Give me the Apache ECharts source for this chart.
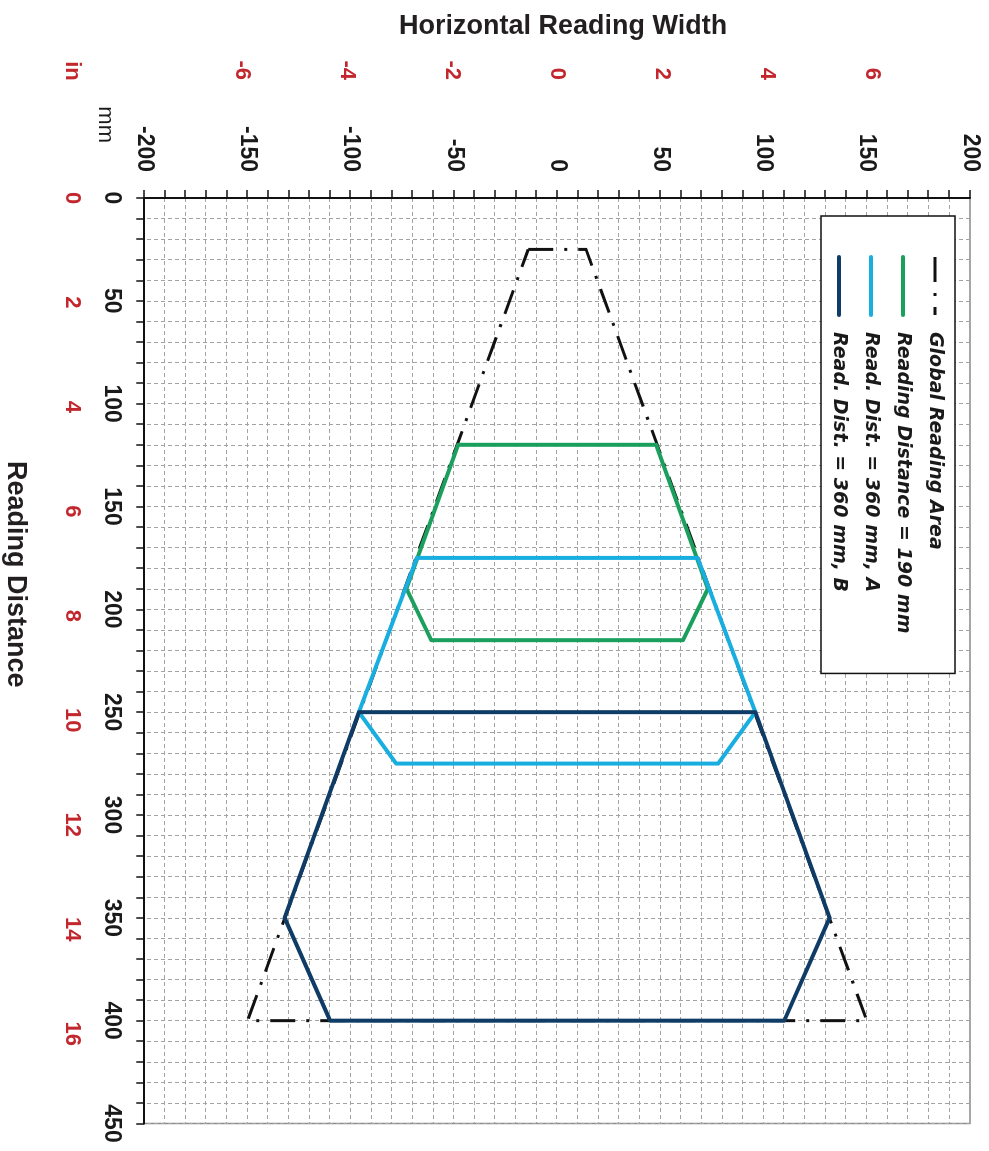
<!DOCTYPE html>
<html>
<head>
<meta charset="utf-8">
<script src="https://cdn.jsdelivr.net/npm/echarts@6/dist/echarts.min.js"></script>
<style>
  html, body { margin: 0; padding: 0; width: 989px; height: 1151px; overflow: hidden; background: #fff; }
  /* the chart is laid out lying on its side, then turned a quarter turn clockwise */
  #chart { position: absolute; left: 0; top: 0; width: 1151px; height: 989px;
           transform-origin: 0 0; transform: translateX(989px) rotate(90deg); }
</style>
</head>
<body>
<div id="chart"></div>
<script>
  var seriesNames = ['Global Reading Area', 'Reading Distance = 190 mm', 'Read. Dist. = 360 mm, A', 'Read. Dist. = 360 mm, B'];

  // outlines: reading distance (mm) and horizontal width (mm), closed back to the first point
  var globalDist  = [25, 25, 400, 400, 25];
  var globalWidth = [-14, 14, 150, -150, -14];
  var rd190Dist   = [120, 120, 190, 215, 215, 190, 120];
  var rd190Width  = [-48, 48, 73, 61, -61, -73, -48];
  var rd360aDist  = [175, 175, 250, 275, 275, 250, 175];
  var rd360aWidth = [-68, 68, 96, 78, -78, -96, -68];
  var rd360bDist  = [250, 250, 350, 400, 400, 350, 250];
  var rd360bWidth = [-96, 96, 132, 110, -110, -132, -96];

  var colors = ['#111111', '#1a9f5c', '#19aee0', '#0f3c66'];
  var dashDot = [25, 11, 3, 11];

  function zip(dist, width) {
    var out = [];
    for (var i = 0; i < dist.length; i++) out.push([dist[i], width[i]]);
    return out;
  }

  var chart = echarts.init(document.getElementById('chart'));
  var font = 'Liberation Sans, Arial, sans-serif';
  var red = '#c1272d';
  var gridLine = { show: true, lineStyle: { color: '#a3a3a3', width: 1, type: [4, 3] } };
  var blackLabel = { fontFamily: font, fontSize: 23, fontWeight: 'bold', color: '#1a1a1a' };
  var redLabel = { fontFamily: font, fontSize: 22, fontWeight: 'bold', color: red };

  function outline(i, dist, width) {
    return {
      name: seriesNames[i],
      type: 'line',
      data: zip(dist, width),
      symbol: 'none',
      itemStyle: { color: colors[i] },
      lineStyle: { color: colors[i], width: 4, cap: 'round', join: 'round' }
    };
  }

  var globalSeries = outline(0, globalDist, globalWidth);
  globalSeries.lineStyle = { color: colors[0], width: 3, type: dashDot, cap: 'butt', join: 'miter' };

  var legendData = seriesNames.map(function (name, i) {
    return {
      name: name,
      lineStyle: i === 0 ? { color: colors[0], width: 3, type: dashDot, cap: 'butt' }
                         : { color: colors[i], width: 4, type: 'solid', cap: 'round' }
    };
  });

  var option = {
    animation: false,
    backgroundColor: '#fff',
    grid: [
      { left: 198, right: 27.5, top: 19, bottom: 144.3, show: true, borderColor: '#8c8c8c', borderWidth: 1.5, outerBoundsMode: 'none' },
      { left: 198, right: 27.5, top: 117.25, bottom: 242.55, outerBoundsMode: 'none' },
      { left: 198, right: 117.3, top: 19, bottom: 144.3, outerBoundsMode: 'none' }
    ],
    xAxis: [
      {
        gridIndex: 0, type: 'value', min: 0, max: 450, interval: 50, position: 'bottom',
        name: 'Reading Distance', nameLocation: 'middle', nameGap: 115,
        nameTextStyle: { fontFamily: font, fontSize: 27, fontWeight: 'bold', color: '#231f20', padding: [0, 173, 0, 0] },
        axisLine: { onZero: false, lineStyle: { color: '#111', width: 2 } },
        axisTick: { length: 8, lineStyle: { color: '#111', width: 1.5 } },
        minorTick: { show: true, splitNumber: 5, length: 8, lineStyle: { color: '#111', width: 1.5 } },
        axisLabel: Object.assign({ margin: 21 }, blackLabel),
        splitLine: gridLine,
        minorSplitLine: gridLine
      },
      { gridIndex: 1, type: 'value', show: false, min: 0, max: 1 },
      {
        gridIndex: 2, type: 'value', min: 0, max: 16, interval: 2, position: 'bottom',
        axisLine: { show: false }, axisTick: { show: false }, splitLine: { show: false },
        axisLabel: Object.assign({ margin: 61 }, redLabel)
      }
    ],
    yAxis: [
      {
        gridIndex: 0, type: 'value', min: -200, max: 200, interval: 50, position: 'left',
        name: 'Horizontal Reading Width', nameLocation: 'middle', nameGap: 158, nameRotate: 90,
        nameTextStyle: { fontFamily: font, fontSize: 27, fontWeight: 'bold', color: '#231f20', padding: [0, 0, 0, 12] },
        axisLine: { onZero: false, lineStyle: { color: '#111', width: 2 } },
        axisTick: { length: 8, lineStyle: { color: '#111', width: 1.5 } },
        minorTick: { show: true, splitNumber: 5, length: 8, lineStyle: { color: '#111', width: 1.5 } },
        axisLabel: Object.assign({ margin: 26 }, blackLabel),
        splitLine: gridLine,
        minorSplitLine: gridLine
      },
      {
        gridIndex: 1, type: 'value', min: -6, max: 6, interval: 2, position: 'left',
        axisLine: { show: false }, axisTick: { show: false }, splitLine: { show: false },
        axisLabel: Object.assign({ margin: 118 }, redLabel)
      },
      { gridIndex: 2, type: 'value', show: false, min: 0, max: 1 }
    ],
    legend: {
      data: legendData,
      orient: 'vertical',
      left: 216, top: 34,
      padding: [10, 40, 8, 39],
      itemWidth: 58, itemHeight: 14, itemGap: 12,
      backgroundColor: '#fff',
      borderColor: '#111', borderWidth: 1.5, borderRadius: 0,
      selectedMode: false,
      itemStyle: { color: 'rgba(0,0,0,0)', borderWidth: 0, opacity: 0 },
      textStyle: { fontFamily: 'DejaVu Sans', fontStyle: 'italic', fontWeight: 'bold', fontSize: 19, lineHeight: 20, color: '#1a1a1a', padding: [0, 0, 0, 12] }
    },
    graphic: [
      { type: 'text', x: 143, y: 884, style: { text: 'mm', align: 'right', verticalAlign: 'middle', font: '22px Liberation Sans', fill: '#1a1a1a' } },
      { type: 'text', x: 71, y: 917, style: { text: 'in', align: 'center', verticalAlign: 'middle', font: 'bold 22px Liberation Sans', fill: red } }
    ],
    series: [
      globalSeries,
      outline(1, rd190Dist, rd190Width),
      outline(2, rd360aDist, rd360aWidth),
      outline(3, rd360bDist, rd360bWidth)
    ]
  };

  chart.setOption(option);
</script>
</body>
</html>
